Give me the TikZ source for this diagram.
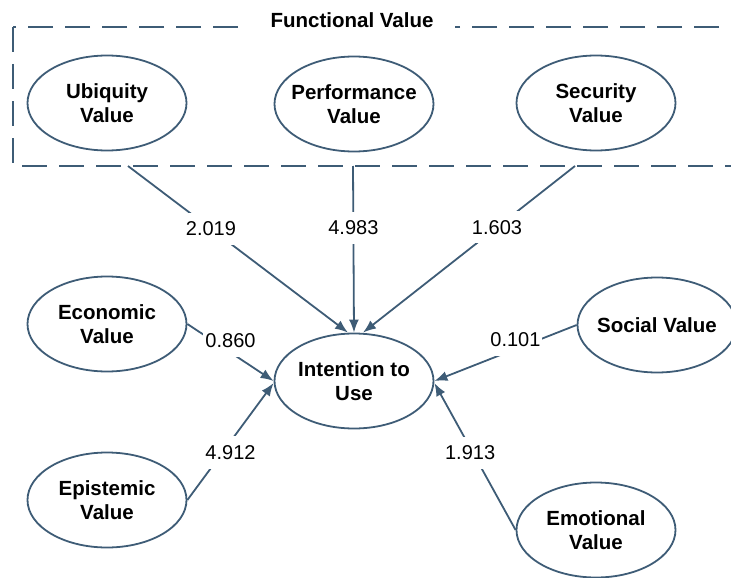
\documentclass[tikz,border=0pt]{standalone}
\usepackage{fontspec}
\setmainfont{Liberation Sans}
\usetikzlibrary{shapes.geometric,arrows.meta}
\definecolor{edgeblue}{RGB}{62,92,118}

\begin{document}
\begin{tikzpicture}[x=1pt, y=-1pt,
	construct/.style={ellipse, draw=edgeblue, line width=1.8pt, minimum width=159pt, minimum height=95pt,
		inner xsep=-14pt, inner ysep=0pt, align=center, font=\fontsize{20.5}{24}\selectfont\bfseries},
	link/.style={draw=edgeblue, line width=1.8pt, -{Latex[length=13pt,width=10pt]}},
	coef/.style={fill=white, inner xsep=2pt, inner ysep=9pt, font=\fontsize{20}{24}\selectfont}]

	\clip (0,0) rectangle (731,578);

	% Functional value group
	\draw[edgeblue, line width=1.8pt, dash pattern=on 25pt off 12pt] (13,27) rectangle (745,166);
	\node[fill=white, inner xsep=22pt, font=\fontsize{20.5}{24}\selectfont\bfseries] (fv) at (352,20) {Functional Value};

	% Constructs
	\node[construct] (ubiq) at (107,103) {Ubiquity\\Value};
	\node[construct] (perf) at (354,104) {Performance\\Value};
	\node[construct] (secu) at (596,103) {Security\\Value};
	\node[construct] (econ) at (107,324) {Economic\\Value};
	\node[construct] (intent) at (354,381) {Intention to\\Use};
	\node[construct] (soci) at (657,325) {Social Value};
	\node[construct] (epis) at (107,500) {Epistemic\\Value};
	\node[construct] (emot) at (596,530) {Emotional\\Value};

	% Outlets on the group border
	\coordinate (ubiq-out) at (128,166);
	\coordinate (perf-out) at (353,166);
	\coordinate (secu-out) at (575,166);

	% Paths with coefficients
	\draw[link] (ubiq-out) -- node[coef, pos=.377] (w-ubiq) {2.019} ([xshift=-6pt]intent.north);
	\draw[link] (perf-out) -- node[coef, pos=.37] (w-perf) {4.983} (intent.north);
	\draw[link] (secu-out) -- node[coef, pos=.368] (w-secu) {1.603} ([xshift=9pt]intent.north);
	\draw[link] (econ.east) -- node[coef, pos=.5, yshift=12pt] (w-econ) {0.860} (intent.west);
	\draw[link] (epis.east) -- node[coef, pos=.5, yshift=-11pt] (w-epis) {4.912} ([yshift=-2pt]intent.west);
	\draw[link] (soci.west) -- node[coef, pos=.43, yshift=9pt] (w-soci) {0.101} (intent.east);
	\draw[link] (emot.west) -- node[coef, pos=.56, yshift=-5pt] (w-emot) {1.913} ([yshift=-2pt]intent.east);
\end{tikzpicture}
\end{document}
